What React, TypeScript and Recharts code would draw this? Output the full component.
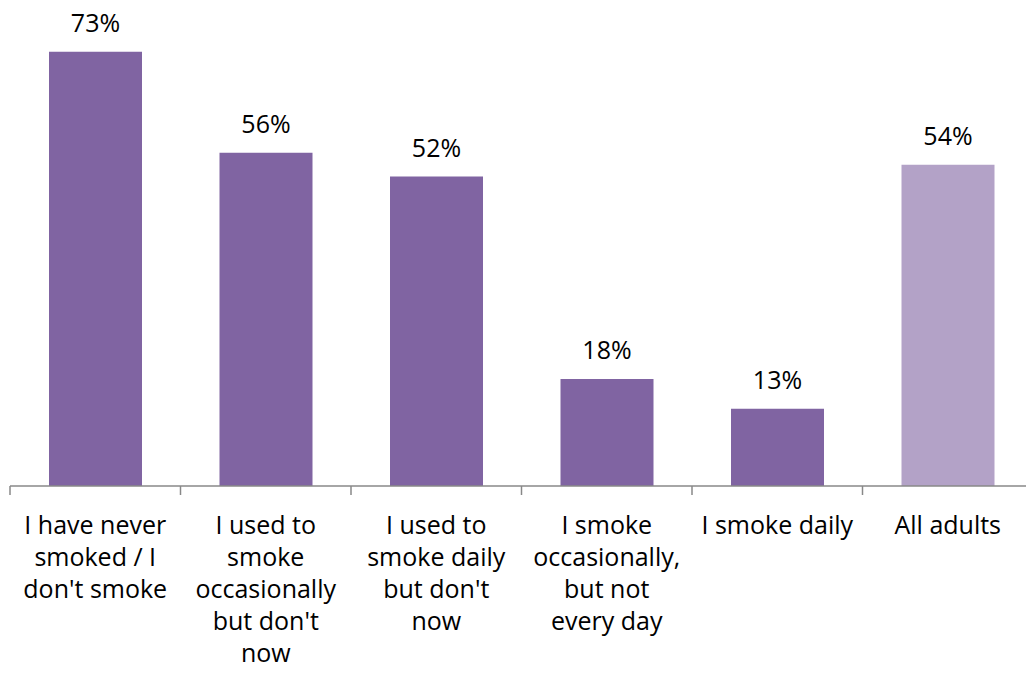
import React from 'react';
import { BarChart, Bar, XAxis, YAxis, Cell, LabelList } from 'recharts';

const CATEGORIES = [
  "I have never\nsmoked / I\ndon't smoke",
  "I used to\nsmoke\noccasionally\nbut don't\nnow",
  "I used to\nsmoke daily\nbut don't\nnow",
  'I smoke\noccasionally,\nbut not\nevery day',
  'I smoke daily',
  'All adults',
];
const VALUES = [73, 56, 52, 18, 13, 54];
const HIGHLIGHT = [false, false, false, false, false, true];

const chartData = CATEGORIES.map((name, i) => ({ name, value: VALUES[i], total: HIGHLIGHT[i] }));

const CHART_W = 1045;
const MARGIN_L = 10;
const MARGIN_R = 12;
const HALF_BAND = (CHART_W - MARGIN_L - MARGIN_R) / CATEGORIES.length / 2;
const FONT = "'Open Sans', 'Noto Sans', sans-serif";

const CategoryTick = (props: any) => {
  const { x, y, payload, index } = props;
  const lines = String(payload.value).split('\n');
  return (
    <g>
      <line x1={x - HALF_BAND} x2={x - HALF_BAND} y1={y - 8} y2={y + 1} stroke="#888" strokeWidth={1.5} />
      {index === CATEGORIES.length - 1 && (
        <line x1={x + HALF_BAND} x2={x + HALF_BAND} y1={y - 8} y2={y + 1} stroke="#888" strokeWidth={1.5} />
      )}
      <text x={x} y={y + 40} textAnchor="middle" fontSize={25} fill="#000" fontFamily={FONT}>
        {lines.map((l, i) => (
          <tspan key={i} x={x} dy={i === 0 ? 0 : 32}>{l}</tspan>
        ))}
      </text>
    </g>
  );
};

export default function App() {
  return (
    <div style={{ position: 'absolute', left: 0, top: 0, width: 1026, height: 698, overflow: 'hidden', background: '#fff' }}>
      <BarChart
        width={CHART_W}
        height={698}
        data={chartData}
        margin={{ top: 10, right: MARGIN_R, left: MARGIN_L, bottom: 0 }}
        barSize={93}
      >
        <XAxis
          dataKey="name"
          interval={0}
          height={212}
          axisLine={{ stroke: '#888', strokeWidth: 1.5 }}
          tickLine={false}
          tick={<CategoryTick />}
        />
        <YAxis hide domain={[0, 80]} />
        <Bar dataKey="value" isAnimationActive={false}>
          {chartData.map((d, i) => (
            <Cell key={i} fill={d.total ? '#B3A2C7' : '#8064A2'} />
          ))}
          <LabelList
            dataKey="value"
            position="top"
            offset={20}
            formatter={(v: any) => `${v}%`}
            style={{ fontSize: 25, fill: '#000', fontFamily: FONT }}
          />
        </Bar>
      </BarChart>
    </div>
  );
}
